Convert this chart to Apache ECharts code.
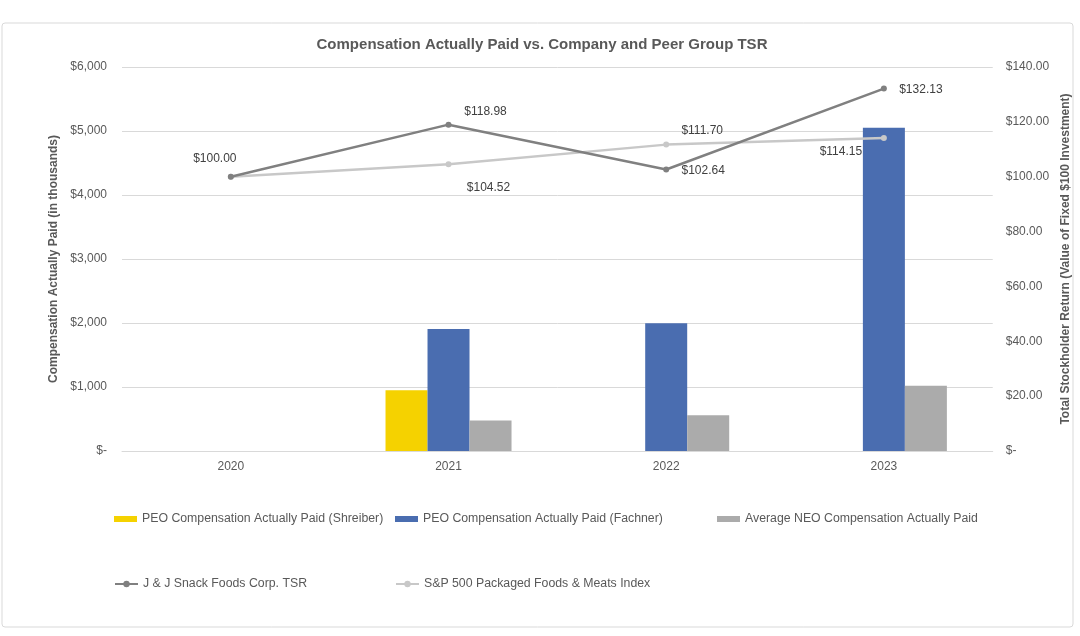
<!DOCTYPE html>
<html><head><meta charset="utf-8">
<script src="https://cdn.jsdelivr.net/npm/echarts@6/dist/echarts.min.js"></script>
<style>html,body{margin:0;padding:0;background:#fff;}#c{width:1080px;height:636px;}</style>
</head><body><div id="c"></div>
<script>
const years = ['2020', '2021', '2022', '2023'];
const peoShreiber = [null, 950, null, null];
const peoFachner = [null, 1905, 1995, 5050];
const avgNeo = [null, 475, 560, 1020];
const jjTsr = [100.00, 118.98, 102.64, 132.13];
const spIndex = [100.00, 104.52, 111.70, 114.15];
const leftTicks = [0, 1000, 2000, 3000, 4000, 5000, 6000];
const rightTicks = [0, 20, 40, 60, 80, 100, 120, 140];

const FONT = 'Liberation Sans, Arial, sans-serif';
const TXT = '#595959';

// label offsets (px) relative to each point
const jjOff = [[-16, -18], [37, -13], [37, 1], [37, 1]];
const spOff = [null, [40, 23], [36, -14], [-43, 14]];

function fmtMoney(v) { return '$' + v.toFixed(2); }

function lineData(vals, offs) {
  return vals.map((v, i) => ({
    value: v,
    label: offs[i] ? { show: true, position: 'inside', offset: offs[i], formatter: fmtMoney(v) } : { show: false }
  }));
}

const chart = echarts.init(document.getElementById('c'));
const barBase = { type: 'bar', barWidth: 42, barGap: '0%', yAxisIndex: 0 };
const legendBase = { orient: 'horizontal', itemWidth: 23, itemHeight: 6, itemGap: 5, padding: 0,
  textStyle: { fontFamily: FONT, fontSize: 12.3, color: TXT }, selectedMode: false };

chart.setOption({
  animation: false,
  textStyle: { fontFamily: FONT },
  title: {
    text: 'Compensation Actually Paid vs. Company and Peer Group TSR',
    left: 537, top: 32, textAlign: 'center',
    textStyle: { fontFamily: FONT, fontSize: 15, fontWeight: 'bold', color: TXT }
  },
  graphic: [{
    type: 'rect', shape: { x: 2, y: 23, width: 1071, height: 604, r: 3 },
    style: { fill: 'none', stroke: '#d9d9d9', lineWidth: 1 }, silent: true, z: -1
  }],
  legend: [
    Object.assign({}, legendBase, { left: 114, top: 513, data: [{ name: 'PEO Compensation Actually Paid (Shreiber)', icon: 'rect' }] }),
    Object.assign({}, legendBase, { left: 395, top: 513, data: [{ name: 'PEO Compensation Actually Paid (Fachner)', icon: 'rect' }] }),
    Object.assign({}, legendBase, { left: 717, top: 513, data: [{ name: 'Average NEO Compensation Actually Paid', icon: 'rect' }] }),
    Object.assign({}, legendBase, { left: 114, top: 578, itemHeight: 8, data: ['J & J Snack Foods Corp. TSR'] }),
    Object.assign({}, legendBase, { left: 395, top: 578, itemHeight: 8, data: ['S&P 500 Packaged Foods & Meats Index'] })
  ],
  grid: { left: 122, right: 82, top: 67, bottom: 185 },
  xAxis: {
    type: 'category', data: years,
    axisLine: { lineStyle: { color: '#d9d9d9' } },
    axisTick: { show: false },
    axisLabel: { color: TXT, fontSize: 12, fontFamily: FONT, margin: 10 }
  },
  yAxis: [{
    type: 'value', min: leftTicks[0], max: leftTicks[leftTicks.length - 1], interval: 1000,
    name: 'Compensation Actually Paid (in thousands)', nameLocation: 'middle', nameRotate: 90, nameGap: 50,
    nameTextStyle: { fontFamily: FONT, fontSize: 12, fontWeight: 'bold', color: TXT },
    axisLine: { show: false }, axisTick: { show: false },
    splitLine: { lineStyle: { color: '#d9d9d9' } },
    axisLabel: { color: TXT, fontSize: 12, fontFamily: FONT, margin: 15,
      formatter: v => v === 0 ? '$-' : '$' + v.toLocaleString('en-US') }
  }, {
    type: 'value', min: rightTicks[0], max: rightTicks[rightTicks.length - 1], interval: 20,
    position: 'right',
    name: 'Total Stockholder Return (Value of Fixed $100 Investment)', nameLocation: 'middle', nameRotate: 90, nameGap: 62,
    nameTextStyle: { fontFamily: FONT, fontSize: 12, fontWeight: 'bold', color: TXT },
    axisLine: { show: false }, axisTick: { show: false }, splitLine: { show: false },
    axisLabel: { color: TXT, fontSize: 12, fontFamily: FONT, margin: 13,
      formatter: v => v === 0 ? '$-' : '$' + v.toFixed(2) }
  }],
  series: [
    Object.assign({}, barBase, { name: 'PEO Compensation Actually Paid (Shreiber)', data: peoShreiber, itemStyle: { color: '#f5d200' } }),
    Object.assign({}, barBase, { name: 'PEO Compensation Actually Paid (Fachner)', data: peoFachner, itemStyle: { color: '#4a6db0' } }),
    Object.assign({}, barBase, { name: 'Average NEO Compensation Actually Paid', data: avgNeo, itemStyle: { color: '#ababab' } }),
    {
      name: 'J & J Snack Foods Corp. TSR', type: 'line', yAxisIndex: 1,
      data: lineData(jjTsr, jjOff), symbol: 'circle', symbolSize: 6, z: 4,
      lineStyle: { color: '#808080', width: 2.5 }, itemStyle: { color: '#808080' },
      label: { color: '#404040', fontSize: 12, fontFamily: FONT }
    },
    {
      name: 'S&P 500 Packaged Foods & Meats Index', type: 'line', yAxisIndex: 1,
      data: lineData(spIndex, spOff), symbol: 'circle', symbolSize: 6, z: 3,
      lineStyle: { color: '#c8c8c8', width: 2.5 }, itemStyle: { color: '#c8c8c8' },
      label: { color: '#404040', fontSize: 12, fontFamily: FONT }
    }
  ]
});
</script>
</body></html>
